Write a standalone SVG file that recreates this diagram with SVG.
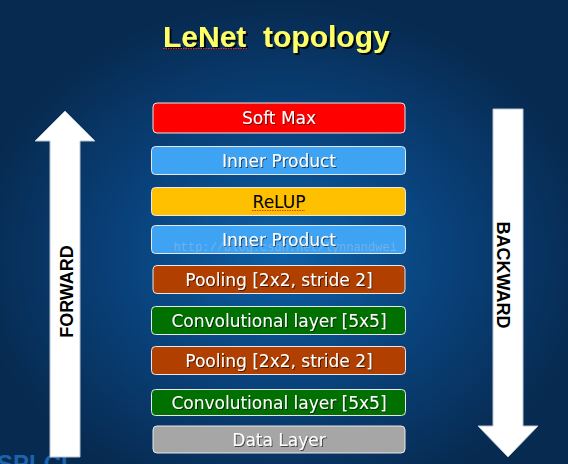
<svg xmlns="http://www.w3.org/2000/svg" width="568" height="464" viewBox="0 0 568 464">
<defs>
<radialGradient id="bg" cx="50%" cy="55%" r="55%">
<stop offset="0" stop-color="#0b5fa6"/>
<stop offset="0.55" stop-color="#094078"/>
<stop offset="1" stop-color="#072a50"/>
</radialGradient>
<filter id="sh" x="-10%" y="-30%" width="120%" height="160%">
<feDropShadow dx="1" dy="1" stdDeviation="0.4" flood-color="#000" flood-opacity="0.6"/>
</filter>
<filter id="tsh" x="-10%" y="-30%" width="120%" height="160%">
<feDropShadow dx="2" dy="2" stdDeviation="0.6" flood-color="#000" flood-opacity="0.85"/>
</filter>
</defs>
<style>
.box{stroke:#e8e8e8;stroke-width:1;}
.lbl{font-family:"DejaVu Sans",Verdana,sans-serif;font-size:17px;fill:#fff;text-anchor:middle;filter:url(#sh);}
.arr{fill:#fff;stroke:#b8c4d0;stroke-width:1;}
.dir{font-family:"Liberation Sans",Arial,sans-serif;font-weight:bold;font-size:18px;fill:#000;text-anchor:middle;}
.sq{fill:none;stroke:#e03030;stroke-width:1;stroke-dasharray:1.5 1;}
</style>
<rect width="568" height="464" fill="url(#bg)"/>
<text x="-3" y="472" font-family="Liberation Sans,Arial,sans-serif" font-size="24" font-weight="bold" fill="#1a63ad">SPLCI</text>
<g id="title">
<text x="163" y="47" xml:space="preserve" style="white-space:pre" font-family="Liberation Sans,Arial,sans-serif" font-weight="bold" font-size="30" fill="#ffff66" filter="url(#tsh)">LeNet  topology</text>
<path class="sq" d="M163 48.5 H248"/>
</g>
<g id="connectors">
<g id="forward">
<path class="arr" d="M50 457 V141 H35 L65 111 L95 141 H80 V457 Z"/>
<text class="dir" transform="translate(73 291.5) rotate(-90)" x="0" y="0">FORWARD</text>
</g>
<g id="backward">
<path class="arr" d="M493 109 H523 V426 H538 L508 457 L478 426 H493 Z"/>
<text class="dir" transform="translate(497 275) rotate(90)" x="0" y="0">BACKWARD</text>
</g>
</g>
<g id="softmax">
<rect class="box" x="153" y="103" width="252" height="30" rx="4" fill="#ff0000"/>
<text class="lbl" x="279" y="124">Soft Max</text>
</g>
<g id="inner2">
<rect class="box" x="151.5" y="146.5" width="254" height="28" rx="4" fill="#3fa3f4"/>
<text class="lbl" x="279" y="167">Inner Product</text>
</g>
<g id="relup">
<rect class="box" x="151.5" y="187.5" width="254" height="28" rx="4" fill="#ffc000"/>
<text x="279" y="208" text-anchor="middle" font-family="DejaVu Sans,Verdana,sans-serif" font-size="17" fill="#000">ReLUP</text>
<path class="sq" d="M252 210.5 H305"/>
</g>
<g id="inner1">
<rect class="box" x="151.5" y="225.5" width="254" height="28" rx="4" fill="#3fa3f4"/>
<text class="lbl" x="279" y="246">Inner Product</text>
</g>
<g id="pool2">
<rect class="box" x="153" y="265.5" width="252" height="28" rx="4" fill="#b03f00"/>
<text class="lbl" x="279" y="286">Pooling [2x2, stride 2]</text>
</g>
<g id="conv2">
<rect class="box" x="151.5" y="306.5" width="254" height="28" rx="4" fill="#007000"/>
<text class="lbl" x="279" y="327">Convolutional layer [5x5]</text>
</g>
<g id="pool1">
<rect class="box" x="151.5" y="346.5" width="254" height="28" rx="4" fill="#b03f00"/>
<text class="lbl" x="279" y="367">Pooling [2x2, stride 2]</text>
</g>
<g id="conv1">
<rect class="box" x="151.5" y="389.5" width="254" height="26" rx="4" fill="#007000"/>
<text class="lbl" x="279" y="409">Convolutional layer [5x5]</text>
</g>
<g id="data">
<rect class="box" x="153" y="426" width="252" height="27" rx="4" fill="#a6a6a6"/>
<text class="lbl" x="279" y="446" fill="#f4f4f4">Data Layer</text>
</g>
<text x="285" y="251" text-anchor="middle" font-family="Liberation Mono,monospace" font-size="12" fill="#d0d0d0" fill-opacity="0.35">http://blog.csdn.net/lynnandwei</text>
</svg>
